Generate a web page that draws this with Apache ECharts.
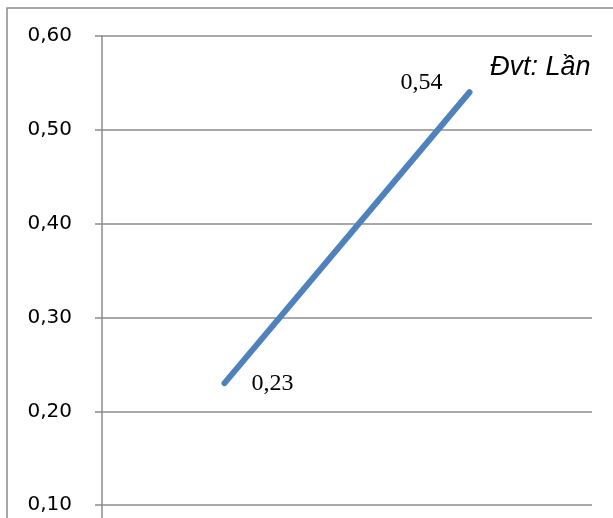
<!DOCTYPE html>
<html><head><meta charset="utf-8">
<script src="https://cdn.jsdelivr.net/npm/echarts@6/dist/echarts.min.js"></script>
<style>html,body{margin:0;padding:0;background:#fff}#c{width:613px;height:518px}</style>
</head><body><div id="c"></div>
<script>
const categories = ["Kỳ 1", "Kỳ 2"];
const values = [0.23, 0.54];
const yTicks = [0, 0.1, 0.2, 0.3, 0.4, 0.5, 0.6];
const unitLabel = "Đvt: Lần";

const chart = echarts.init(document.getElementById('c'));
const fmt = v => v.toFixed(2).replace('.', ',');
chart.setOption({
  animation: false,
  grid: { left: 102, width: 490, top: 36, height: 563, containLabel: false, outerBoundsMode: 'none' },
  xAxis: {
    type: 'category', data: categories, boundaryGap: true,
    axisLine: { show: false }, axisTick: { show: false }, axisLabel: { show: false }
  },
  yAxis: {
    type: 'value', min: yTicks[0], max: yTicks[yTicks.length - 1], interval: 0.1,
    axisLine: { show: true, lineStyle: { color: '#8c8c8c', width: 1.5 } },
    axisTick: { show: true, length: 7, lineStyle: { color: '#8c8c8c', width: 1.5 } },
    axisLabel: { formatter: fmt, fontFamily: 'DejaVu Sans', fontSize: 20, color: '#000', margin: 30 },
    splitLine: { show: true, lineStyle: { color: '#8c8c8c', width: 1.5 } }
  },
  series: [{
    type: 'line', data: values.map((v, i) => ({
      value: v,
      label: { position: i === 0 ? 'right' : 'left' }
    })),
    symbol: 'circle', symbolSize: 2, showSymbol: true,
    itemStyle: { color: '#4f81bd' },
    lineStyle: { color: '#4f81bd', width: 6, cap: 'round' },
    label: { show: true, distance: 0, formatter: p => fmt(p.value), fontFamily: 'Liberation Serif', fontSize: 24, color: '#000' },
    labelLayout: p => p.dataIndex === 0 ? { dx: 26, dy: 1, hideOverlap: false } : { dx: -26, dy: -10, hideOverlap: false },
    z: 5
  }],
  graphic: [
    { type: 'rect', shape: { x: 7, y: 8, width: 640, height: 540 }, style: { fill: 'none', stroke: '#8c8c8c', lineWidth: 1.5 }, silent: true },
    { type: 'text', left: 490, top: 54, style: { text: unitLabel, font: 'italic 27px "Liberation Sans"', fill: '#000' } }
  ]
});
</script></body></html>
